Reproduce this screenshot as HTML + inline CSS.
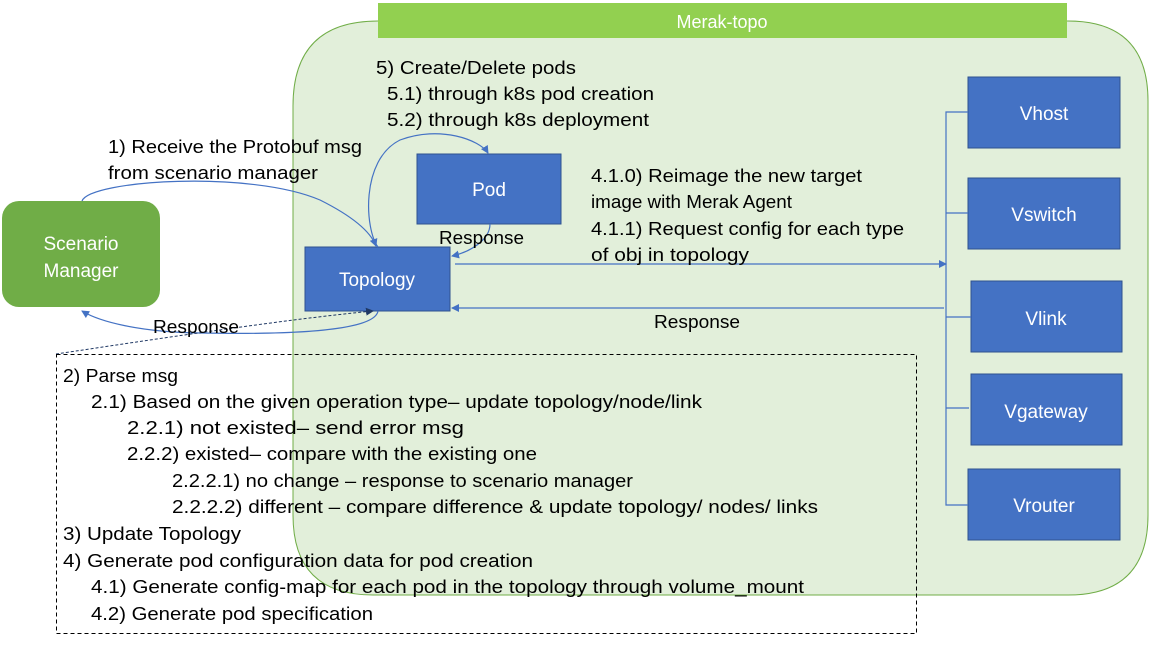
<!DOCTYPE html>
<html><head><meta charset="utf-8"><style>
body{margin:0;background:#fff;}
svg text{font-family:"Liberation Sans",sans-serif;}
</style></head><body>
<svg width="1153" height="640" viewBox="0 0 1153 640" xmlns="http://www.w3.org/2000/svg">
<defs>
<marker id="a" markerWidth="8" markerHeight="8" refX="7" refY="4" orient="auto" markerUnits="userSpaceOnUse"><path d="M0,0 L8,4 L0,8 z" fill="#4472c4"/></marker>
<marker id="d" markerWidth="8" markerHeight="8" refX="7" refY="4" orient="auto" markerUnits="userSpaceOnUse"><path d="M0,0 L8,4 L0,8 z" fill="#1f3864"/></marker>
</defs>
<path d="M378,21 L1068,21 Q1148,21 1148,101 L1148,515 Q1148,595 1068,595 L373,595 Q293,595 293,515 L293,106 Q293,21 378,21 Z" fill="#e2efda" stroke="#70ad47" stroke-width="1"/>
<rect x="378" y="3" width="689" height="35" fill="#92d050"/>
<text x="722" y="28" text-anchor="middle" font-size="18" fill="#fff">Merak-topo</text>

<rect x="2" y="201" width="158" height="106" rx="17" fill="#70ad47"/>
<text x="81" y="250" text-anchor="middle" font-size="19" fill="#fff">Scenario</text>
<text x="81" y="277" text-anchor="middle" font-size="19" fill="#fff">Manager</text>

<rect x="305" y="247" width="145" height="64" fill="#4472c4" stroke="#2f528f"/>
<text x="377" y="286" text-anchor="middle" font-size="19" fill="#fff">Topology</text>
<rect x="417" y="154" width="144" height="70" fill="#4472c4" stroke="#2f528f"/>
<text x="489" y="196" text-anchor="middle" font-size="19" fill="#fff">Pod</text>

<g fill="#4472c4" stroke="#2f528f">
<rect x="968" y="77" width="152" height="71"/>
<rect x="968" y="178" width="152" height="71"/>
<rect x="971" y="281" width="151" height="71"/>
<rect x="971" y="374" width="151" height="71"/>
<rect x="968" y="469" width="152" height="71"/>
</g>
<g font-size="19" fill="#fff" text-anchor="middle">
<text x="1044" y="120">Vhost</text>
<text x="1044" y="221">Vswitch</text>
<text x="1046" y="325">Vlink</text>
<text x="1046" y="418">Vgateway</text>
<text x="1044" y="512">Vrouter</text>
</g>
<g stroke="#4472c4" stroke-width="1.2" fill="none">
<path d="M968,112 L946,112 L946,505 L968,505"/>
<path d="M946,213 L968,213"/>
<path d="M946,317 L971,317"/>
<path d="M946,408 L969,408"/>
<path d="M455,264 L946,264" marker-end="url(#a)"/>
<path d="M944,308 L452,308" marker-end="url(#a)"/>
<path d="M82,201 C90,180 250,170 320,200 C350,215 370,230 376,246" marker-end="url(#a)"/>
<path d="M378,247 C365,230 360,160 400,140 C440,125 480,140 488,153" marker-end="url(#a)"/>
<path d="M490,224 C490,240 470,252 452,256" marker-end="url(#a)"/>
<path d="M378,311 C375,330 300,335 200,333 C140,332 100,322 82,311" marker-end="url(#a)"/>
</g>
<path d="M56,354 C150,340 280,320 373,311" stroke="#1f3864" stroke-width="1" stroke-dasharray="3,2" fill="none" marker-end="url(#d)"/>

<rect x="56.5" y="354.5" width="860" height="279" fill="none" stroke="#000" stroke-dasharray="4,3"/>

<g font-size="18.5" fill="#000" lengthAdjust="spacingAndGlyphs">
<text x="376" y="74" textLength="200" lengthAdjust="spacingAndGlyphs">5) Create/Delete pods</text>
<text x="387" y="100" textLength="267" lengthAdjust="spacingAndGlyphs">5.1) through k8s pod creation</text>
<text x="387" y="126" textLength="262" lengthAdjust="spacingAndGlyphs">5.2) through k8s deployment</text>
<text x="108" y="153" textLength="254" lengthAdjust="spacingAndGlyphs">1) Receive the Protobuf msg</text>
<text x="108" y="179" textLength="210" lengthAdjust="spacingAndGlyphs">from scenario manager</text>
<text x="591" y="182" textLength="271" lengthAdjust="spacingAndGlyphs">4.1.0) Reimage the new target</text>
<text x="591" y="208" textLength="201" lengthAdjust="spacingAndGlyphs">image with Merak Agent</text>
<text x="591" y="235" textLength="313" lengthAdjust="spacingAndGlyphs">4.1.1) Request config for each type</text>
<text x="591" y="261" textLength="158" lengthAdjust="spacingAndGlyphs">of obj in topology</text>
<text x="439" y="244" textLength="85" lengthAdjust="spacingAndGlyphs">Response</text>
<text x="654" y="328" textLength="86" lengthAdjust="spacingAndGlyphs">Response</text>
<text x="153" y="333" textLength="86" lengthAdjust="spacingAndGlyphs">Response</text>
<text x="63" y="382" textLength="115" lengthAdjust="spacingAndGlyphs">2) Parse msg</text>
<text x="91" y="408" textLength="611" lengthAdjust="spacingAndGlyphs">2.1) Based on the given operation type– update topology/node/link</text>
<text x="127" y="434" textLength="337" lengthAdjust="spacingAndGlyphs">2.2.1) not existed– send error msg</text>
<text x="127" y="460" textLength="410" lengthAdjust="spacingAndGlyphs">2.2.2) existed– compare with the existing one</text>
<text x="172" y="487" textLength="461" lengthAdjust="spacingAndGlyphs">2.2.2.1) no change – response to scenario manager</text>
<text x="172" y="513" textLength="646" lengthAdjust="spacingAndGlyphs">2.2.2.2) different – compare difference &amp; update topology/ nodes/ links</text>
<text x="63" y="540" textLength="178" lengthAdjust="spacingAndGlyphs">3) Update Topology</text>
<text x="63" y="567" textLength="470" lengthAdjust="spacingAndGlyphs">4) Generate pod configuration data for pod creation</text>
<text x="91" y="593" textLength="713" lengthAdjust="spacingAndGlyphs">4.1) Generate config-map for each pod in the topology through volume_mount</text>
<text x="91" y="620" textLength="282" lengthAdjust="spacingAndGlyphs">4.2) Generate pod specification</text>
</g>
</svg>
</body></html>
